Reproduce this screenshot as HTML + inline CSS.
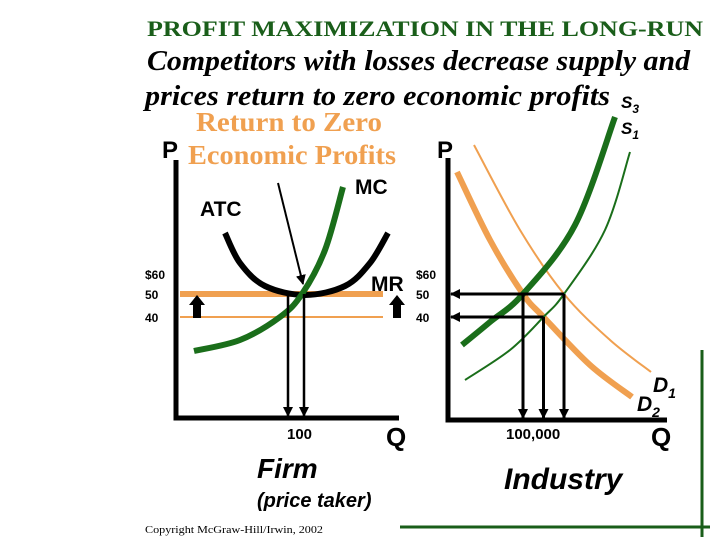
<!DOCTYPE html>
<html><head><meta charset="utf-8"><style>
body{margin:0;background:#fff}
svg{display:block}
.s{font-family:"Liberation Sans",sans-serif;font-weight:bold}
.r{font-family:"Liberation Serif",serif;font-weight:bold}
</style></head><body>
<svg id="c" width="720" height="540" viewBox="0 0 720 540">
<defs><marker id="ah" markerWidth="10" markerHeight="10" refX="9" refY="5" orient="auto" markerUnits="userSpaceOnUse"><path d="M0,0 L10,5 L0,10 Z" fill="#000"/></marker></defs>
<text x="147" y="36" class="r" font-size="22" fill="#1a5e1a" textLength="556" lengthAdjust="spacingAndGlyphs">PROFIT MAXIMIZATION IN THE LONG-RUN</text>
<text x="147" y="70" class="r" font-style="italic" font-size="28" textLength="543" lengthAdjust="spacingAndGlyphs">Competitors with losses decrease supply and</text>
<text x="145" y="105" class="r" font-style="italic" font-size="28" textLength="465" lengthAdjust="spacingAndGlyphs">prices return to zero economic profits</text>
<text x="196" y="131" class="r" font-size="27" fill="#f0a050" textLength="186" lengthAdjust="spacingAndGlyphs">Return to Zero</text>
<text x="188" y="164" class="r" font-size="27" fill="#f0a050" textLength="208" lengthAdjust="spacingAndGlyphs">Economic Profits</text>
<text x="162" y="158" class="s" font-size="24">P</text>
<text x="437" y="158" class="s" font-size="24">P</text>
<g id="firm"></g>
<g id="ind"></g>
<text x="355" y="194" class="s" font-size="21">MC</text>
<text x="200" y="216" class="s" font-size="21">ATC</text>
<text x="371" y="291" class="s" font-size="21">MR</text>
<text x="386" y="446" class="s" font-size="26">Q</text>
<text x="287" y="439" class="s" font-size="15" font-weight="normal">100</text>
<text x="257" y="478" class="s" font-size="28" font-style="italic" font-weight="normal">Firm</text>
<text x="257" y="507" class="s" font-size="20" font-style="italic" font-weight="normal">(price taker)</text>
<text x="145" y="533" font-family="Liberation Serif,serif" font-size="10" textLength="178" lengthAdjust="spacingAndGlyphs">Copyright McGraw-Hill/Irwin, 2002</text>
<text x="506" y="439" class="s" font-size="15" font-weight="normal">100,000</text>
<text x="504" y="489" class="s" font-size="30" font-style="italic" font-weight="normal">Industry</text>
<text x="651" y="446" class="s" font-size="26">Q</text>
<text x="653" y="392" class="s" font-size="21" font-style="italic" font-weight="normal">D<tspan font-size="14" dy="6">1</tspan></text>
<text x="637" y="411" class="s" font-size="21" font-style="italic" font-weight="normal">D<tspan font-size="14" dy="6">2</tspan></text>
<text x="621" y="108" class="s" font-size="17" font-style="italic">S<tspan font-size="12" dy="5">3</tspan></text>
<text x="621" y="134" class="s" font-size="17" font-style="italic">S<tspan font-size="12" dy="5">1</tspan></text>
<line x1="702" y1="350" x2="702" y2="537" stroke="#1a5e1a" stroke-width="3"/>
<line x1="400" y1="527" x2="710" y2="527" stroke="#1a5e1a" stroke-width="3"/>
</svg>
<script>
const priceTicks=["$60","50","40"];
const priceValues=[60,50,40];
const firmQ=[93,100];
const industryQ=[90000,95000,100000];
const ns="http://www.w3.org/2000/svg";
function mk(p,t,a){const e=document.createElementNS(ns,t);for(const k in a)e.setAttribute(k,a[k]);p.appendChild(e);return e;}
function cr(pts){let d=`M${pts[0][0]},${pts[0][1]}`;for(let i=0;i<pts.length-1;i++){const p0=pts[i-1]||pts[i],p1=pts[i],p2=pts[i+1],p3=pts[i+2]||p2;
 d+=` C${p1[0]+(p2[0]-p0[0])/6},${p1[1]+(p2[1]-p0[1])/6} ${p2[0]-(p3[0]-p1[0])/6},${p2[1]-(p3[1]-p1[1])/6} ${p2[0]},${p2[1]}`;}return d;}
const yP=v=>294+(50-v)*2.3;
const xF=q=>288+(q-93)*(16/7);
const xI=q=>523+(q-90000)*(41/10000);
const firm=document.getElementById('firm'), ind=document.getElementById('ind');
let e=mk(firm,'path',{d:'M176,160 L176,418 L399,418',fill:'none',stroke:'#000','stroke-width':5});

priceTicks.forEach((t,i)=>{
 const y=yP(priceValues[i])+5+(i===0?3:0);
 let tx=mk(firm,'text',{x:145,y:y,'font-family':'Liberation Sans,sans-serif','font-weight':'bold','font-size':12});
 tx.textContent=t;
 let t2=mk(ind,'text',{x:416,y:y,'font-family':'Liberation Sans,sans-serif','font-weight':'bold','font-size':12});
 t2.textContent=t;
});
e=mk(firm,'line',{x1:180,x2:383,y1:yP(50),y2:yP(50),stroke:'#f0a050','stroke-width':6});

e=mk(firm,'line',{x1:180,x2:383,y1:yP(40),y2:yP(40),stroke:'#f0a050','stroke-width':2});

e=mk(firm,'path',{d:cr([[225,233],[240,263],[265,286],[305,yP(50)+1],[345,286],[370,263],[388,233]]),fill:'none',stroke:'#000','stroke-width':6});

e=mk(firm,'path',{d:cr([[194,351],[240,340],[280,yP(40)],[302,yP(50)],[325,250],[343,187]]),fill:'none',stroke:'#1a6e1a','stroke-width':6});

firmQ.forEach((q,i)=>{
 let l=mk(firm,'line',{x1:xF(q),x2:xF(q),y1:yP(50),y2:416,stroke:'#000','stroke-width':2.5,'marker-end':'url(#ah)'});
 
});
e=mk(firm,'line',{x1:278,y1:183,x2:303,y2:284,stroke:'#000','stroke-width':2,'marker-end':'url(#ah)'});

[197,397].forEach(x=>{let a=mk(firm,'path',{d:`M${x-4},318 L${x-4},305 L${x-8},305 L${x},295 L${x+8},305 L${x+4},305 L${x+4},318Z`,fill:'#000'});
 });
e=mk(ind,'path',{d:'M448,158 L448,420 L667,420',fill:'none',stroke:'#000','stroke-width':5});

e=mk(ind,'path',{d:cr([[474,145],[520,230],[xI(100000),yP(50)],[610,340],[651,372]]),fill:'none',stroke:'#f0a050','stroke-width':2});

e=mk(ind,'path',{d:cr([[457,172],[490,240],[xI(90000),yP(50)],[xI(95000),yP(40)],[590,365],[632,397]]),fill:'none',stroke:'#f0a050','stroke-width':6});

e=mk(ind,'path',{d:cr([[465,380],[510,350],[xI(95000),yP(40)],[xI(100000),yP(50)],[605,230],[630,152]]),fill:'none',stroke:'#1a6e1a','stroke-width':2});

e=mk(ind,'path',{d:cr([[462,345],[490,322],[xI(90000),yP(50)],[575,225],[615,117]]),fill:'none',stroke:'#1a6e1a','stroke-width':6});

const pIdx=[50,40,50];
industryQ.forEach((q,i)=>{
 let l=mk(ind,'line',{x1:xI(q),x2:xI(q),y1:yP(pIdx[i]),y2:418,stroke:'#000','stroke-width':3,'marker-end':'url(#ah)'});
 
});
[[100000,50],[95000,40]].forEach(([q,p])=>{
 let l=mk(ind,'line',{x1:xI(q),x2:451,y1:yP(p),y2:yP(p),stroke:'#000','stroke-width':3,'marker-end':'url(#ah)'});
 
});
</script>
</body></html>
